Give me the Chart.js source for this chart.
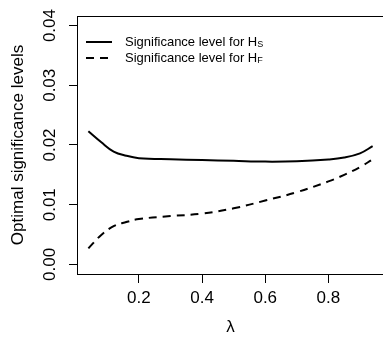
<!DOCTYPE html>
<html>
<head>
<meta charset="utf-8">
<script src="https://cdn.jsdelivr.net/npm/chart.js@4/dist/chart.umd.min.js"></script>
<style>
  html, body { margin: 0; padding: 0; overflow: hidden; background: #fff; }
</style>
</head>
<body>
<canvas id="sig" width="390" height="338"></canvas>
<script>
// lambda grid and the two optimal significance curves
const lambda = [0.04, 0.08, 0.12, 0.16, 0.20, 0.30, 0.40, 0.50, 0.60, 0.70, 0.80, 0.85, 0.90, 0.94];
const sigHS = [0.0223, 0.0205, 0.0189, 0.0182, 0.0178, 0.0176, 0.01748, 0.01735, 0.01722, 0.01728, 0.01758, 0.0179, 0.0186, 0.0198];
const sigHF = [0.0027, 0.0049, 0.0064, 0.0071, 0.0076, 0.0081, 0.0085, 0.0094, 0.0107, 0.0121, 0.0139, 0.0150, 0.0163, 0.0176];

const xTicks = [0.2, 0.4, 0.6, 0.8];
const yTicks = [0, 0.01, 0.02, 0.03, 0.04];

const FONT = "'Liberation Sans', Arial, Helvetica, sans-serif";
const DASH = [8, 6];

const pairs = (xs, ys) => xs.map((x, i) => ({ x: x, y: ys[i] }));

// box around the plot region plus the hand-made legend (needs subscripts)
const boxAndLegend = {
  id: 'boxAndLegend',
  afterDraw(chart) {
    const { ctx, chartArea: a } = chart;
    ctx.save();
    ctx.strokeStyle = '#000';
    ctx.lineWidth = 1;
    ctx.strokeRect(a.left + 0.5, a.top + 0.5, a.right - a.left, a.bottom - a.top);

    const rows = [
      { sub: 'S', dash: [] },
      { sub: 'F', dash: DASH }
    ];
    rows.forEach((r, i) => {
      const y = 42 + i * 16;
      ctx.beginPath();
      ctx.setLineDash(r.dash);
      ctx.lineWidth = 2;
      ctx.moveTo(86, y);
      ctx.lineTo(112, y);
      ctx.stroke();
      ctx.setLineDash([]);

      ctx.fillStyle = '#000';
      ctx.textBaseline = 'middle';
      ctx.textAlign = 'left';
      ctx.font = '13px ' + FONT;
      const main = 'Significance level for H';
      ctx.fillText(main, 125, y);
      const w = ctx.measureText(main).width;
      ctx.font = '9px ' + FONT;
      ctx.fillText(r.sub, 125 + w, y + 2.5);
    });
    ctx.restore();
  }
};

new Chart(document.getElementById('sig'), {
  type: 'scatter',
  data: {
    datasets: [
      {
        label: 'Significance level for HS',
        data: pairs(lambda, sigHS),
        showLine: true,
        borderColor: '#000',
        borderWidth: 2,
        pointRadius: 0,
        tension: 0.4
      },
      {
        label: 'Significance level for HF',
        data: pairs(lambda, sigHF),
        showLine: true,
        borderColor: '#000',
        borderWidth: 2,
        borderDash: DASH,
        pointRadius: 0,
        tension: 0.4
      }
    ]
  },
  options: {
    responsive: false,
    animation: false,
    layout: { padding: { top: 16, right: 6, left: 0, bottom: 0 } },
    plugins: {
      legend: { display: false },
      tooltip: { enabled: false }
    },
    scales: {
      x: {
        type: 'linear',
        min: 0.004,
        max: 0.976,
        afterBuildTicks: (s) => { s.ticks = xTicks.map(v => ({ value: v })); },
        afterFit: (s) => { s.height = 64; },
        border: { display: false },
        grid: { drawOnChartArea: false, tickLength: 9, color: '#000' },
        ticks: {
          color: '#000',
          font: { family: FONT, size: 17 },
          padding: 5,
          maxRotation: 0,
          callback: (v) => v.toFixed(1)
        },
        title: {
          display: true,
          text: 'λ',
          color: '#000',
          font: { family: FONT, size: 17 },
          padding: { top: 5, bottom: 0 }
        }
      },
      y: {
        min: -0.0016,
        max: 0.0416,
        afterBuildTicks: (s) => { s.ticks = yTicks.map(v => ({ value: v })); },
        afterFit: (s) => { s.width = 77; },
        border: { display: false },
        grid: { drawOnChartArea: false, tickLength: 8, color: '#000' },
        ticks: {
          color: '#000',
          font: { family: FONT, size: 17 },
          minRotation: 90,
          maxRotation: 90,
          crossAlign: 'center',
          padding: 2,
          callback: (v) => v.toFixed(2)
        },
        title: {
          display: true,
          text: 'Optimal significance levels',
          color: '#000',
          font: { family: FONT, size: 17 },
          padding: { top: 8, bottom: 0 }
        }
      }
    }
  },
  plugins: [boxAndLegend]
});
</script>
</body>
</html>
